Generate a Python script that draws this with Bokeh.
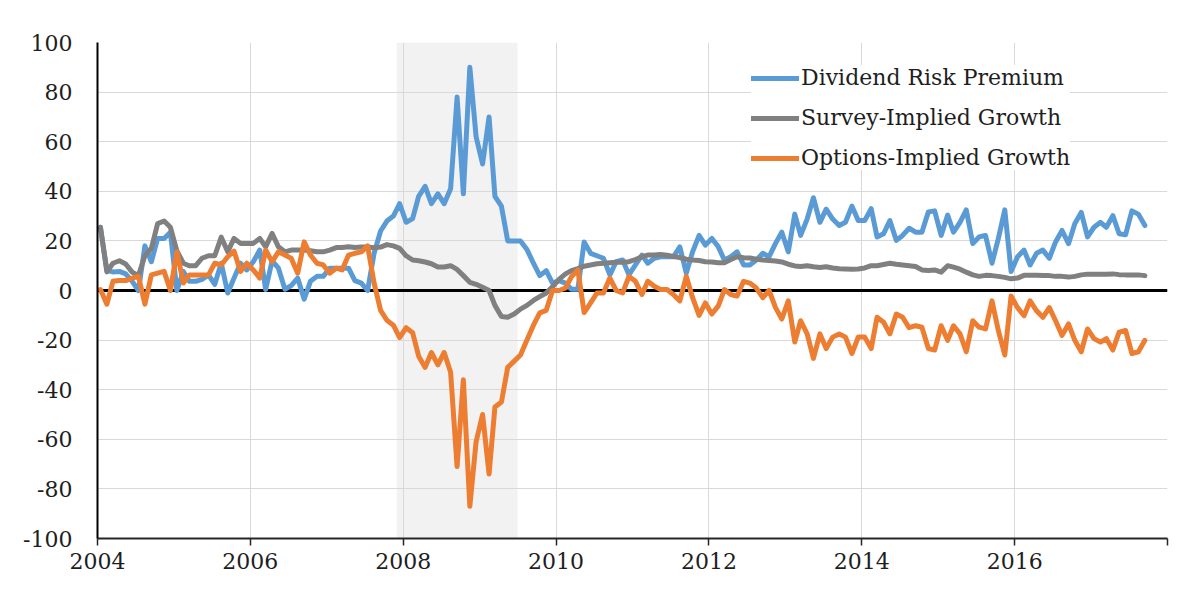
import pandas as pd
from bokeh.plotting import figure
from bokeh.models import (ColumnDataSource, FixedTicker, BoxAnnotation, Span,
                          Legend, LegendItem)
from bokeh.embed import file_html
from bokeh.resources import INLINE

# ---------------- data (monthly, Jan 2004 - Sep 2017) ----------------
start_month = "2004-01-01"
series_names = ["Dividend Risk Premium", "Survey-Implied Growth", "Options-Implied Growth"]
series_colors = ["#5B9BD5", "#808080", "#ED7D31"]

dividend_risk_premium = [
    25.5, 8, 7.5, 7.7, 6.7, 3.7, 0, 18, 11.6, 21, 21, 23.5,
    0, 7.7, 3.7, 3.7, 4.5, 6.3, 2.5, 11, -1, 5, 11, 8.3,
    11.6, 16.3, 0.4, 12, 9, 0.5, 2, 5, -3.5, 3.7, 5.7, 5.7,
    9, 9, 9, 9, 4, 3, 0, 15, 24, 28, 30, 35,
    27.5, 29, 38, 42, 35, 39, 35, 41, 78, 39, 90, 62,
    51, 70, 38, 34, 20, 20, 20, 16.5, 11, 6, 8, 3,
    4, 3, 0.5, 0.5, 19.6, 15, 14, 13, 6.3, 11.6, 12.3, 6.3,
    10.3, 14.3, 11, 13, 13.6, 13.6, 13.6, 17.6, 7, 15.6, 22.2, 18.3,
    21, 17.6, 12.3, 13.6, 15.6, 10.3, 10.3, 12.3, 15, 13.6, 19, 23.5,
    15.6, 30.8, 22.2, 28.8, 37.4, 27.5, 32.8, 28.8, 26.2, 27.5, 34, 28.2,
    28.2, 33, 21.6, 22.9, 28.2, 20.2, 22.2, 25.1, 23.5, 23.5, 31.7, 32.1,
    22.2, 30.4, 23.5, 27.5, 32.5, 18.9, 21.6, 22.2, 11, 20.9, 32.5, 7.7,
    13.6, 16.3, 10.3, 15, 16.3, 13, 19.6, 24.2, 18.9, 26.9, 31.5, 21.6,
    25.5, 27.5, 25.5, 30.2, 22.9, 22.5, 32.1, 30.8, 26.2,
]

survey_implied_growth = [
    25.5, 7.5, 11, 12, 10.7, 7.4, 6, 14, 17, 27, 28, 25.5,
    16, 11, 10, 10, 13, 14, 14, 21.5, 15.6, 21, 19, 19,
    19, 21, 17.6, 23, 17.6, 15.6, 16.3, 16.3, 16.3, 16, 15.6, 15.6,
    16.3, 17.3, 17.3, 17.6, 17.3, 17.5, 17.5, 17.2, 17.5, 18.5, 18, 17,
    14, 12.3, 12, 11.5, 10.8, 9.5, 9.5, 10, 8.5, 6, 3.3, 2.5,
    1.3, 0, -6, -10.5, -10.8, -9.5, -7.5, -6, -4, -2.5, -1, 1.5,
    4.5, 6.7, 8, 8.8, 9.8, 10.3, 10.8, 11, 11.2, 11.4, 11.4, 11.6,
    12.5, 13.6, 14.3, 14.3, 14.5, 14.2, 13.7, 13.3, 12.6, 12.3, 12.1, 11.6,
    11.5, 11.2, 11.2, 12.5, 13.6, 13.2, 13.1, 12.6, 12.3, 12.1, 11.9, 11.5,
    10.6, 9.9, 9.7, 10, 9.6, 9.3, 9.6, 9.1, 8.8, 8.7, 8.6, 8.7,
    9.1, 10, 10, 10.5, 11, 10.6, 10.3, 10, 9.7, 8.3, 8.1, 8.3,
    7.4, 10, 9.4, 8.6, 7.4, 6.3, 5.7, 6.1, 6, 5.7, 5.3, 4.7,
    5, 6.1, 6.1, 6.1, 6, 6, 5.7, 5.7, 5.4, 5.7, 6.3, 6.6,
    6.6, 6.6, 6.6, 6.7, 6.4, 6.3, 6.3, 6.3, 6,
]

options_implied_growth = [
    0.4, -5.5, 3.7, 4, 4, 5, 5.7, -5.5, 6.3, 7, 7.7, 0,
    15.6, 3, 6.3, 6.3, 6.3, 6.3, 11, 10.3, 13.6, 15.9, 7.7, 11,
    8.3, 5, 16.3, 11.6, 15.6, 14.3, 13, 7, 19.6, 14.3, 11, 10.3,
    7, 9, 8.3, 14.3, 15, 15.6, 18, 3, -8, -12, -14, -19,
    -15, -17, -26.5, -31, -25, -30, -25, -33, -71, -36, -87, -61,
    -50, -74, -47, -45, -31, -28.5, -26, -20, -14, -9, -8, 0,
    0, 1, 5.5, 8.3, -8.9, -5, -1, -1, 5, 0, -1, 5.7,
    3.7, -1.6, 3.7, 1.7, 0.4, 0.4, -1.6, -4.2, 5.7, -2.9, -10, -5,
    -9.5, -6.2, 0.4, -1.6, -2.2, 3.7, 3, 1, -2.9, 0, -6.9, -11.5,
    -4.2, -20.8, -12.2, -17.5, -27.4, -17.5, -23.4, -18.8, -17.5, -18.8, -25.4, -18.8,
    -18.8, -23.4, -10.8, -12.8, -17.5, -9.5, -10.8, -15, -14.2, -14.8, -23.4, -24,
    -14.2, -20.1, -14.2, -17.5, -24.7, -12.2, -14.8, -15.5, -4.2, -16.1, -26, -2.2,
    -6.9, -10.2, -4.2, -8.2, -10.8, -6.9, -12.2, -18.1, -13.5, -20.1, -24.7, -15.5,
    -19.4, -20.8, -19.4, -24, -16.8, -16.1, -25.4, -24.7, -20.1,
]

recession_start = "2007-12-01"
recession_end = "2009-07-01"

x_ticks = [2004, 2006, 2008, 2010, 2012, 2014, 2016, 2018]
x_tick_labels = ["2004", "2006", "2008", "2010", "2012", "2014", "2016", ""]
y_ticks = [-100, -80, -60, -40, -20, 0, 20, 40, 60, 80, 100]
y_tick_labels = [str(v) for v in y_ticks]

# ---------------- helpers ----------------
def year_frac(ts):
    ts = pd.Timestamp(ts)
    days = 366 if ts.is_leap_year else 365
    return ts.year + (ts.dayofyear - 1) / days

dates = pd.date_range(start_month, periods=len(dividend_risk_premium), freq="MS") + pd.Timedelta(days=14)
xs = [year_frac(d) for d in dates]

source = ColumnDataSource(dict(
    x=xs,
    drp=dividend_risk_premium,
    sig=survey_implied_growth,
    oig=options_implied_growth,
))

FONT = "DejaVu Serif"
TEXT = "#1e1e1e"

p = figure(width=1188, height=578, x_range=(x_ticks[0], x_ticks[-1]),
           y_range=(y_ticks[0], y_ticks[-1]),
           output_backend="svg", toolbar_location=None,
           min_border_left=97, min_border_right=21,
           min_border_top=42, min_border_bottom=40)
p.outline_line_color = None
p.background_fill_color = "white"
p.border_fill_color = "white"

# recession shading
p.add_layout(BoxAnnotation(left=year_frac(recession_start), right=year_frac(recession_end),
                           fill_color="#f2f2f2", fill_alpha=1.0, line_color=None,
                           level="image"))

# grids
p.xgrid.ticker = FixedTicker(ticks=x_ticks)
p.ygrid.ticker = FixedTicker(ticks=y_ticks)
for g in (p.xgrid, p.ygrid):
    g.grid_line_color = "#d9d9d9"
    g.grid_line_width = 1

# zero line
p.add_layout(Span(location=0, dimension="width", line_color="black",
                  line_width=3, level="underlay"))

# axes
xa = p.xaxis[0]
xa.ticker = FixedTicker(ticks=x_ticks)
xa.major_label_overrides = {t: l for t, l in zip(x_ticks, x_tick_labels)}
xa.minor_tick_line_color = None
xa.major_tick_out = 7
xa.major_tick_in = 0
xa.major_tick_line_color = "#262626"
xa.major_tick_line_width = 1.5
xa.axis_line_color = "#262626"
xa.axis_line_width = 2
xa.major_label_standoff = 7
xa.major_label_text_font = FONT
xa.major_label_text_font_size = "22px"
xa.major_label_text_color = TEXT

ya = p.yaxis[0]
ya.ticker = FixedTicker(ticks=y_ticks)
ya.major_label_overrides = {t: l for t, l in zip(y_ticks, y_tick_labels)}
ya.minor_tick_line_color = None
ya.major_tick_line_color = None
ya.major_tick_out = 0
ya.major_tick_in = 0
ya.axis_line_color = "black"
ya.axis_line_width = 2
ya.major_label_standoff = 25
ya.major_label_text_font = FONT
ya.major_label_text_font_size = "22px"
ya.major_label_text_color = TEXT

# series
renderers = []
for col, color in zip(["drp", "sig", "oig"], series_colors):
    r = p.line("x", col, source=source, line_color=color, line_width=5,
               line_join="round", line_cap="round")
    renderers.append(r)

legend = Legend(items=[LegendItem(label=n, renderers=[r]) for n, r in zip(series_names, renderers)],
                location=(654, 368), orientation="vertical",
                glyph_width=48, glyph_height=24, label_height=24,
                label_standoff=2, spacing=15, padding=8, margin=0,
                border_line_color=None, background_fill_color="white",
                background_fill_alpha=1.0,
                label_text_font=FONT, label_text_font_size="22px",
                label_text_color=TEXT)
p.add_layout(legend, "center")

open("out.html", "w").write(file_html(p, INLINE))
